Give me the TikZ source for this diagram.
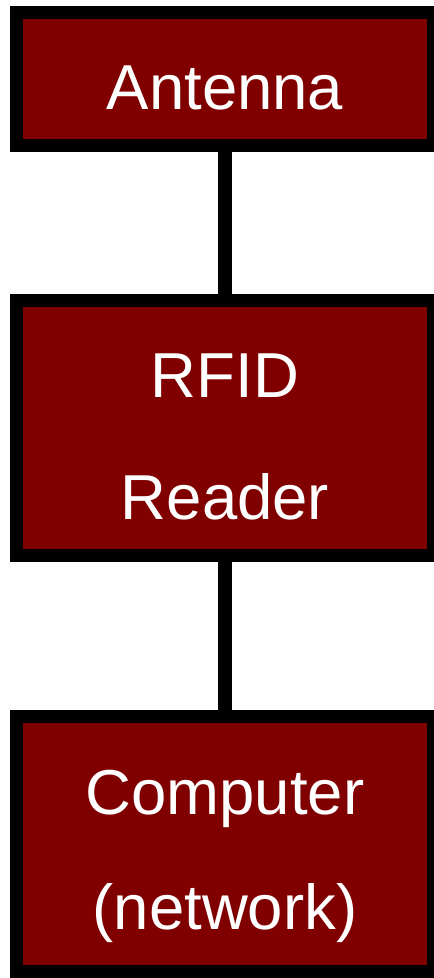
\documentclass[tikz,border=0pt]{standalone}
\usepackage{fontspec}
\setmainfont{Liberation Sans}
\definecolor{boxred}{HTML}{800000}
\begin{document}
\begin{tikzpicture}[x=1pt,y=1pt,
  block/.style={draw=black, fill=boxred, line width=13pt, rectangle,
    minimum width=417pt, inner sep=0pt, outer sep=0pt},
  caption/.style={text=white, anchor=base, inner sep=0pt,
    font=\fontsize{63.5}{76}\selectfont},
  link/.style={draw=black, line width=13.5pt}]
  \useasboundingbox (0,0) rectangle (434,-978);
  % three stacked blocks
  \node[block, minimum height=133pt] (antenna) at (225,-79) {};
  \node[block, minimum height=255pt] (reader) at (225,-428) {};
  \node[block, minimum height=255pt] (computer) at (225,-844) {};
  % links between blocks
  \draw[link] (antenna.south) -- (reader.north);
  \draw[link] (reader.south) -- (computer.north);
  % labels, one node per line set on its baseline
  \node[caption] (antennatxt) at (225,-109) {Antenna};
  \node[caption] (readertxta) at (225,-397) {RFID};
  \node[caption] (readertxtb) at (225,-519) {Reader};
  \node[caption] (computertxta) at (225,-814) {Computer};
  \node[caption] (computertxtb) at (225,-929) {(network)};
\end{tikzpicture}
\end{document}
